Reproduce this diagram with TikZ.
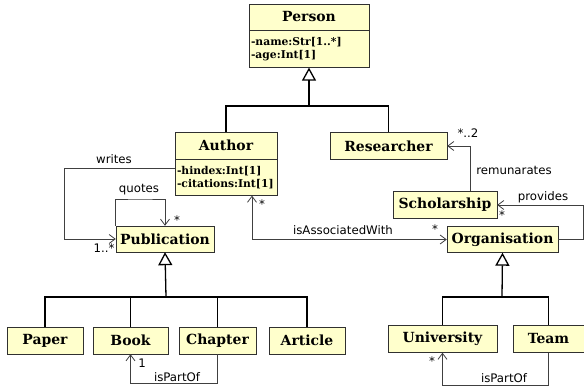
\documentclass[tikz,border=0pt]{standalone}
\usepackage{fontspec}
\setmainfont{DejaVu Sans}
\newfontfamily\umlfont{DejaVu Serif}
\usetikzlibrary{arrows.meta}

\definecolor{classfill}{HTML}{FFFFCC}
\definecolor{classline}{HTML}{303030}
\definecolor{assocline}{HTML}{404040}

\tikzset{
  umlclass/.style={draw=classline, fill=classfill, inner sep=1bp, minimum height=27bp,
    font=\umlfont\bfseries\fontsize{14}{15}\selectfont},
  umlattr/.style={draw=classline, fill=classfill, inner xsep=2bp, inner ysep=1bp, anchor=north, align=left,
    font=\umlfont\bfseries\fontsize{10.8}{12.5}\selectfont},
  inherit/.style={line width=1.3bp, black},
  inherittip/.style={inherit, -{Triangle[open, length=13bp, width=14bp, fill=white]}},
  assoc/.style={assocline, line width=0.8bp, -{Straight Barb[length=6bp, width=9bp]}},
  role/.style={inner sep=0pt, font=\fontsize{11.8}{14}\selectfont}
}

\begin{document}
\begin{tikzpicture}[x=1bp, y=-1bp]
        \useasboundingbox (0,0) rectangle (584,391);

        % classes
        \begin{scope}[every node/.style={umlclass}]
          \node[minimum width=120bp, minimum height=26bp] (person) at (309,17) {Person};
          \node[minimum width=102bp] (author)       at (226,145.5) {Author};
          \node[minimum width=117bp] (researcher)   at (388.5,146) {Researcher};
          \node[minimum width=104bp] (scholarship)  at (445,205)   {Scholarship};
          \node[minimum width=98bp, minimum height=26bp] (publication) at (165,239) {Publication};
          \node[minimum width=111bp, minimum height=26bp] (organisation) at (502.5,239.5) {Organisation};
          \node[minimum width=76bp] (paper)      at (45,340.5)    {Paper};
          \node[minimum width=75bp] (book)       at (130.5,340.5) {Book};
          \node[minimum width=77bp] (chapter)    at (217.5,340.5) {Chapter};
          \node[minimum width=76bp] (article)    at (307,340.5)   {Article};
          \node[minimum width=109bp] (university) at (442.5,339)  {University};
          \node[minimum width=71bp] (team)       at (548.5,339)   {Team};
        \end{scope}

        % attributes
        \node[umlattr, text width=116bp, minimum height=37bp] (personattr) at (person.south)
          {-name:Str[1..*]\\-age:Int[1]};
        \node[umlattr, text width=98bp, minimum height=36bp] (authorattr) at (author.south)
          {-hindex:Int[1]\\-citations:Int[1]};

        % junctions
        \coordinate (pj)   at (309,106);
        \coordinate (pubj) at (166,297);
        \coordinate (orgj) at (502,297);
        \coordinate (w)    at (64,168);
        \coordinate (q)    at (140,199);
        \coordinate (a)    at (252,239);
        \coordinate (r)    at (470,170);
        \coordinate (p)    at (583,222);
        \coordinate (c)    at (175,383);
        \coordinate (u)    at (500,385);

        % generalisation
        \draw[inherit] (author.north) |- (pj) -| (researcher.north);
        \draw[inherittip] (pj) -- (personattr.south);
        \draw[inherit] (paper.north) |- (pubj) -| (article.north);
        \draw[inherit] (book.north) -- (book.north |- pubj);
        \draw[inherit] (chapter.north) -- (chapter.north |- pubj);
        \draw[inherittip] (pubj) -- (publication.south);
        \draw[inherit] (university.north) |- (orgj) -| (team.north);
        \draw[inherittip] (orgj) -- (organisation.south);

        % associations
        \draw[assoc] (authorattr.west |- w) -- (w) |- (publication.west);
        \draw[assoc] (publication.north west) |- (q) -| (publication.north);
        \draw[assoc, {Straight Barb[length=6bp, width=9bp]}-{Straight Barb[length=6bp, width=9bp]}]
          (authorattr.south -| a) |- (organisation.west);
        \draw[assoc] (scholarship.north -| r) |- (researcher.east);
        \draw[assoc] (organisation.east) -| (p) |- (scholarship.east);
        \draw[assoc] (chapter.south) |- (c) -| (book.south);
        \draw[assoc] (team.south) |- (u) -| (university.south);

        % labels
        \begin{scope}[every node/.style={role}]
          \node (lwrites)    at (114,159) {writes};
          \node (mwrites)    at (104,248) {1..*};
          \node (lquotes)    at (139,190) {quotes};
          \node (mquotes)    at (177,220) {*};
          \node (lassoc)     at (343,230) {isAssociatedWith};
          \node (massoca)    at (262,204) {*};
          \node (massocb)    at (435,229) {*};
          \node (mremun)     at (468,133) {*..2};
          \node (lremun)     at (514,170) {remunarates};
          \node (lprovides)  at (543,197) {provides};
          \node (mprovides)  at (502,215) {*};
          \node (mbook)      at (142,363) {1};
          \node (lbookpart)  at (177,377) {isPartOf};
          \node (muni)       at (432,361) {*};
          \node (lunipart)   at (504,378) {isPartOf};
        \end{scope}

\end{tikzpicture}
\end{document}
